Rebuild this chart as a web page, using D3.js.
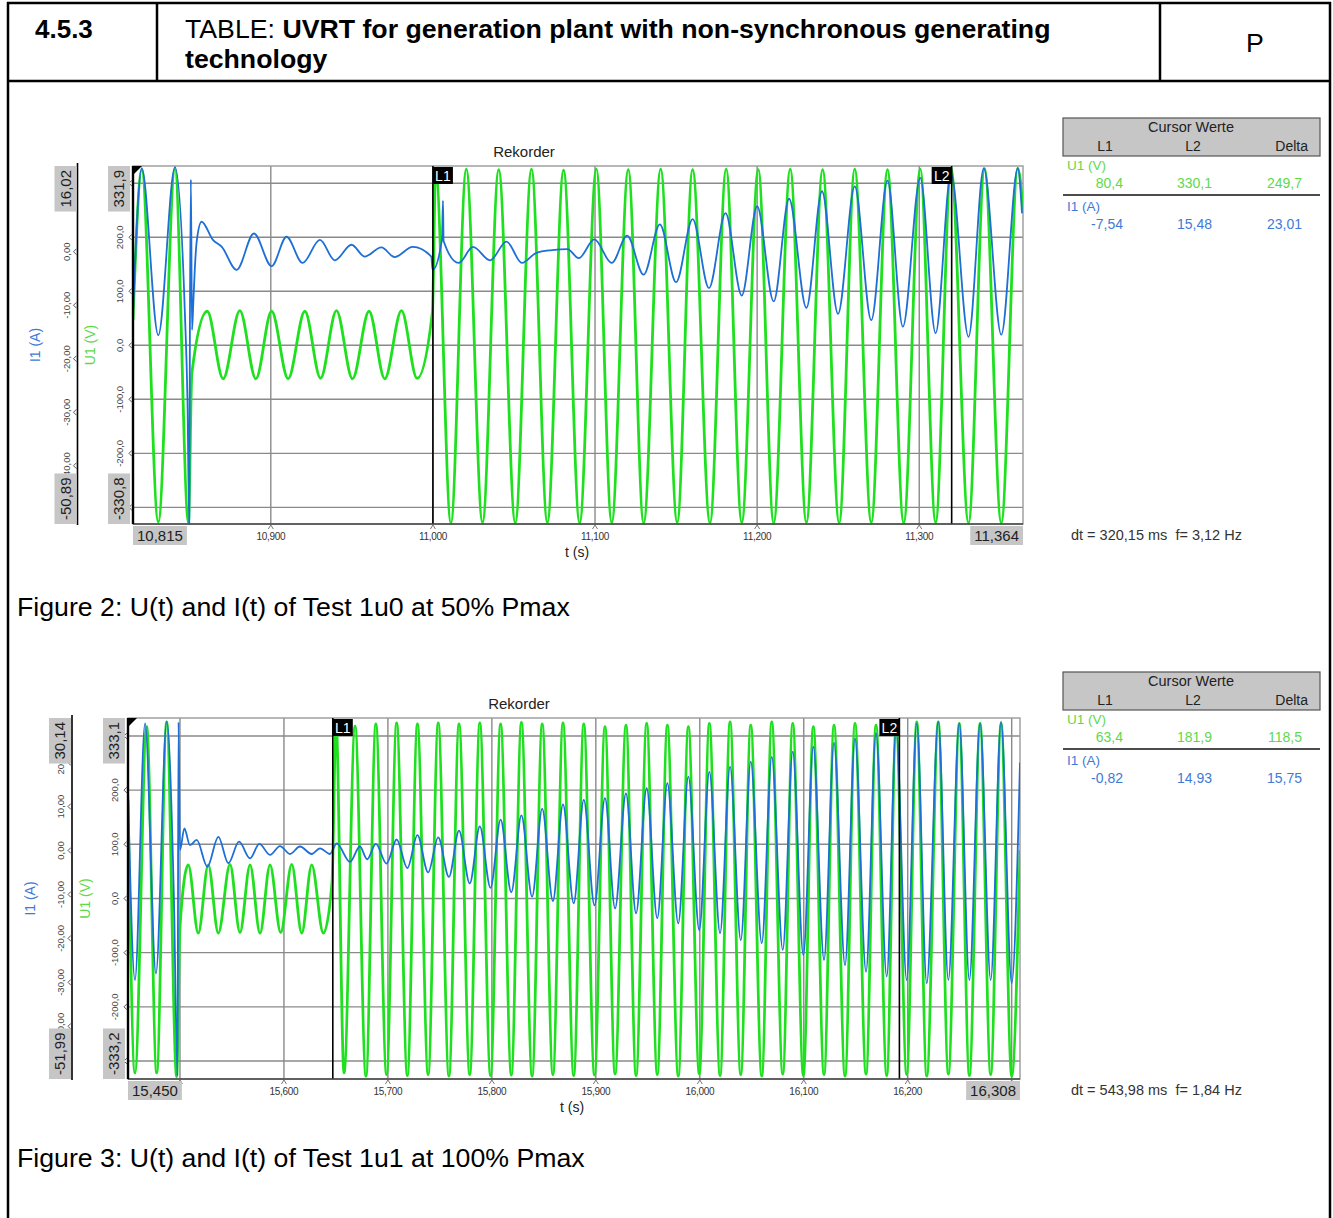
<!DOCTYPE html>
<html>
<head>
<meta charset="utf-8">
<script src="https://cdn.jsdelivr.net/npm/d3@7"></script>
<style>
  body { margin: 0; background: #fff; }
  svg text { font-family: "Liberation Sans", Arial, sans-serif; white-space: pre; }
</style>
</head>
<body>
<svg id="page" width="1333" height="1218"></svg>
<script>
// ---- data ----
// Figure 2 (Test 1u0, 50% Pmax)
var fig2TimeRange = [10.815, 11.364];
var fig2TimeTicks = [10.9, 11.0, 11.1, 11.2, 11.3];
var fig2U1Range = [-330.8, 331.9];
var fig2U1Ticks = [-300, -200, -100, 0, 100, 200, 300];
var fig2I1Range = [-50.89, 16.02];
var fig2I1Ticks = [-40, -30, -20, -10, 0];
var fig2Cursors = [11.000, 11.320];
var fig2CursorU1 = ["80,4", "330,1", "249,7"];
var fig2CursorI1 = ["-7,54", "15,48", "23,01"];
var fig2Delta = "dt = 320,15 ms  f= 3,12 Hz";
// [t (s), U1 (V)] turning points
var fig2U1 = [
  [10.8150, 47], [10.8204, 325], [10.8306, -327], [10.8409, 326], [10.8492, -329], [10.8513, -52],
  [10.8608, 63], [10.8706, -62], [10.8809, 64], [10.8908, -62], [10.9005, 63], [10.9107, -62],
  [10.9210, 63], [10.9307, -61], [10.9405, 64], [10.9504, -62], [10.9606, 63], [10.9703, -62],
  [10.9806, 64], [10.9902, -61], [10.9997, 62],
  [11.0017, 325], [11.0111, -329], [11.0206, 326], [11.0306, -328], [11.0406, 325], [11.0508, -329],
  [11.0608, 326], [11.0706, -328], [11.0806, 324], [11.0905, -329], [11.1008, 326], [11.1103, -328],
  [11.1205, 325], [11.1300, -329], [11.1405, 326], [11.1507, -328], [11.1602, 325], [11.1709, -329],
  [11.1809, 326], [11.1905, -328], [11.2007, 325], [11.2102, -329], [11.2204, 326], [11.2304, -328],
  [11.2404, 325], [11.2506, -329], [11.2602, 326], [11.2704, -328], [11.2804, 325], [11.2904, -329],
  [11.3006, 326], [11.3101, -328], [11.3196, 328], [11.3304, -329], [11.3403, 327], [11.3506, -329],
  [11.3608, 328], [11.3640, 251]
];
// [t (s), I1 (A)] turning points
var fig2I1 = [
  [10.8150, -11.4], [10.8204, 15.6], [10.8306, -15.6], [10.8409, 15.8], [10.8470, -11.5], [10.8486, -27.7],
  [10.8497, -50.7], [10.8501, -14.6], [10.8507, 13.5], [10.8514, -14.6], [10.8522, -9.6], [10.8532, -2.8],
  [10.8544, 2.2], [10.8573, 5.6], [10.8643, 2.2], [10.8698, 0.9], [10.8789, -3.4], [10.8896, 3.4],
  [10.9005, -2.7], [10.9097, 2.8], [10.9196, -2.1], [10.9303, 2.2], [10.9395, -1.6], [10.9498, 1.3],
  [10.9579, -0.9], [10.9682, 0.8], [10.9764, -1.0], [10.9875, 0.9], [10.9990, -0.9], [10.9998, -3.4],
  [11.0056, 2.3], [11.0062, 9.5], [11.0066, 2.0], [11.0159, -2.1], [11.0247, 0.9], [11.0353, -1.6],
  [11.0454, 1.9], [11.0549, -2.1], [11.0639, -0.2], [11.0734, 0.3], [11.0830, 0.5], [11.0900, -1.2],
  [11.0996, 2.3], [11.1103, -2.1], [11.1198, 3.0], [11.1300, -4.3], [11.1400, 5.1], [11.1500, -5.7],
  [11.1602, 6.1], [11.1703, -6.8], [11.1805, 7.2], [11.1905, -8.2], [11.2000, 8.5], [11.2102, -9.3],
  [11.2197, 9.9], [11.2304, -10.5], [11.2400, 11.3], [11.2499, -11.6], [11.2602, 12.2], [11.2704, -12.8],
  [11.2804, 13.3], [11.2899, -14.0], [11.3006, 13.8], [11.3101, -15.2], [11.3196, 14.6], [11.3304, -15.9],
  [11.3398, 15.6], [11.3506, -15.5], [11.3608, 15.6], [11.3634, 7.2]
];

// Figure 3 (Test 1u1, 100% Pmax)
var fig3TimeRange = [15.450, 16.308];
var fig3TimeTicks = [15.5, 15.6, 15.7, 15.8, 15.9, 16.0, 16.1, 16.2, 16.3];
var fig3U1Range = [-333.2, 333.1];
var fig3U1Ticks = [-300, -200, -100, 0, 100, 200, 300];
var fig3I1Range = [-51.99, 30.14];
var fig3I1Ticks = [-40, -30, -20, -10, 0, 10, 20];
var fig3Cursors = [15.647, 16.192];
var fig3CursorU1 = ["63,4", "181,9", "118,5"];
var fig3CursorI1 = ["-0,82", "14,93", "15,75"];
var fig3Delta = "dt = 543,98 ms  f= 1,84 Hz";
var fig3U1 = [
  [15.4500, 182], [15.4567, -322], [15.4680, 317], [15.4776, -322], [15.4872, 326], [15.4968, -329], [15.5000, -52],
  [15.5080, 62], [15.5176, -64], [15.5272, 62], [15.5369, -64], [15.5481, 63], [15.5577, -63], [15.5674, 62],
  [15.5770, -64], [15.5866, 62], [15.5969, -63], [15.6075, 63], [15.6171, -64], [15.6267, 62], [15.6379, -64],
  [15.6462, 29], [15.6501, 326], [15.6578, -322], [15.6684, 318], [15.6789, -328], [15.6884, 322], [15.6987, -325],
  [15.7084, 324], [15.7187, -327], [15.7284, 322], [15.7387, -325], [15.7484, 324], [15.7587, -328], [15.7684, 322],
  [15.7787, -325], [15.7884, 324], [15.7987, -327], [15.8084, 322], [15.8187, -326], [15.8284, 325], [15.8387, -328],
  [15.8484, 322], [15.8587, -325], [15.8684, 324], [15.8787, -327], [15.8884, 322], [15.8987, -326], [15.9088, 317],
  [15.9185, -324], [15.9290, 320], [15.9387, -327], [15.9489, 323], [15.9591, -325], [15.9688, 320], [15.9793, -328],
  [15.9890, 317], [15.9995, -324], [16.0092, 323], [16.0195, -327], [16.0291, 326], [16.0394, -325], [16.0490, 320],
  [16.0596, -328], [16.0692, 326], [16.0798, -324], [16.0894, 323], [16.0996, -327], [16.1092, 317], [16.1195, -325],
  [16.1291, 320], [16.1397, -328], [16.1493, 323], [16.1599, -324], [16.1695, 320], [16.1798, -327], [16.1888, 318],
  [16.1990, -325], [16.2087, 326], [16.2183, -328], [16.2294, 326], [16.2391, -324], [16.2496, 323], [16.2593, -327],
  [16.2696, 323], [16.2798, -325], [16.2898, 323], [16.3000, -328], [16.3080, 89]
];
var fig3I1 = [
  [15.4500, 13.8], [15.4567, -29.5], [15.4664, 28.9], [15.4769, -28.0], [15.4872, 29.3], [15.4942, -11.3],
  [15.4976, -51.3], [15.4986, 29.2], [15.5000, 0.1], [15.5042, 5.0], [15.5096, 1.2], [15.5161, 2.4],
  [15.5263, -3.7], [15.5369, 3.1], [15.5465, -2.9], [15.5568, 2.0], [15.5674, -1.8], [15.5763, 1.5],
  [15.5866, -1.0], [15.5962, 1.0], [15.6058, -0.8], [15.6154, 0.9], [15.6267, -0.8], [15.6347, 0.5],
  [15.6443, -0.8], [15.6469, 0.1], [15.6507, 1.6], [15.6635, -2.6], [15.6731, 0.9], [15.6800, -2.0],
  [15.6884, 1.5], [15.6987, -3.0], [15.7084, 2.5], [15.7187, -4.0], [15.7284, 3.5], [15.7387, -5.0],
  [15.7484, 3.0], [15.7587, -6.0], [15.7684, 4.5], [15.7787, -7.5], [15.7884, 5.5], [15.7987, -8.5],
  [15.8084, 7.0], [15.8187, -9.5], [15.8284, 8.0], [15.8387, -10.5], [15.8484, 9.5], [15.8587, -11.5],
  [15.8684, 10.5], [15.8787, -12.0], [15.8884, 11.5], [15.8987, -12.5], [15.9088, 11.9], [15.9185, -13.2],
  [15.9290, 13.0], [15.9387, -14.3], [15.9489, 14.2], [15.9591, -15.4], [15.9688, 15.3], [15.9793, -16.6],
  [15.9890, 16.8], [15.9995, -18.1], [16.0092, 17.9], [16.0195, -18.8], [16.0291, 19.1], [16.0394, -20.4],
  [16.0490, 20.2], [16.0596, -21.1], [16.0692, 21.3], [16.0798, -22.6], [16.0894, 22.5], [16.0996, -23.8],
  [16.1092, 23.6], [16.1195, -24.9], [16.1291, 24.5], [16.1397, -26.1], [16.1493, 25.5], [16.1599, -27.6],
  [16.1695, 26.7], [16.1798, -28.7], [16.1888, 27.4], [16.1990, -29.5], [16.2087, 28.9], [16.2183, -30.2],
  [16.2294, 29.3], [16.2391, -29.5], [16.2496, 28.9], [16.2593, -29.5], [16.2696, 28.9], [16.2798, -29.5],
  [16.2898, 29.3], [16.3000, -30.2], [16.3080, 20.0]
];

var captions = ["Figure 2: U(t) and I(t) of Test 1u0 at 50% Pmax", "Figure 3: U(t) and I(t) of Test 1u1 at 100% Pmax"];

// ---- styles ----
var GREEN = "#1fe01f";
var BLUE = "#1d6fd6";
var GREEN_TXT = "#5fd94a";
var BLUE_TXT = "#3f7ad6";
var GRID = "#8a8a8a";
var BOX = "#c6c6c6";
var DOC_SIZE = 26.7;

var svg = d3.select("#page");

function comma(v, n) { return v.toFixed(n).replace(".", ","); }

function vText(sel, x, y, txt, size, color) {
  return sel.append("text")
    .attr("transform", "translate(" + x + "," + y + ") rotate(-90)")
    .attr("text-anchor", "middle")
    .attr("dy", "0.35em")
    .attr("font-size", size)
    .attr("fill", color)
    .text(txt);
}

// grey value box with vertical text
function vBox(sel, x, yEdge, txt, atTop) {
  var g = sel.append("g");
  var r = g.append("rect").attr("fill", BOX);
  var t = vText(g, x + 11, 0, txt, 15, "#1e1e1e");
  var len = t.node().getComputedTextLength();
  var h = len + 8;
  var y0 = atTop ? yEdge : yEdge - h;
  r.attr("x", x).attr("y", y0).attr("width", 22).attr("height", h);
  t.attr("transform", "translate(" + (x + 11) + "," + (y0 + h / 2) + ") rotate(-90)");
}

// grey value box with horizontal text
function hBox(sel, xEdge, y, txt, atLeft) {
  var g = sel.append("g");
  var r = g.append("rect").attr("fill", BOX);
  var t = g.append("text").attr("font-size", 15).attr("fill", "#1e1e1e").text(txt);
  var w = t.node().getComputedTextLength() + 8;
  var x0 = atLeft ? xEdge : xEdge - w;
  r.attr("x", x0).attr("y", y).attr("width", w).attr("height", 19);
  t.attr("x", x0 + 4).attr("y", y + 15);
}

function drawRecorder(cfg) {
  var g = svg.append("g");
  var x = d3.scaleLinear().domain(cfg.tRange).range([cfg.left, cfg.right]);
  var yU = d3.scaleLinear().domain(cfg.uRange).range([cfg.bottom, cfg.top]);
  var yI = d3.scaleLinear().domain(cfg.iRange).range([cfg.bottom, cfg.top]);
  var midY = (cfg.top + cfg.bottom) / 2;

  g.append("text")
    .attr("x", cfg.left + 391).attr("y", cfg.top - 9)
    .attr("text-anchor", "middle").attr("font-size", 15).attr("fill", "#222")
    .text("Rekorder");

  g.append("clipPath").attr("id", "clip" + cfg.id)
    .append("rect")
    .attr("x", cfg.left).attr("y", cfg.top)
    .attr("width", cfg.right - cfg.left).attr("height", cfg.bottom - cfg.top);

  // grid
  g.append("g").selectAll("line").data(cfg.uTicks).join("line")
    .attr("x1", cfg.left).attr("x2", cfg.right)
    .attr("y1", function(d) { return yU(d); }).attr("y2", function(d) { return yU(d); })
    .attr("stroke", GRID).attr("stroke-width", 1.4);
  g.append("g").selectAll("line").data(cfg.tTicks).join("line")
    .attr("x1", function(d) { return x(d); }).attr("x2", function(d) { return x(d); })
    .attr("y1", cfg.top).attr("y2", cfg.bottom)
    .attr("stroke", GRID).attr("stroke-width", 1.4);
  g.append("rect")
    .attr("x", cfg.left).attr("y", cfg.top)
    .attr("width", cfg.right - cfg.left).attr("height", cfg.bottom - cfg.top)
    .attr("fill", "none").attr("stroke", "#9a9a9a").attr("stroke-width", 1.4);

  // traces
  var plot = g.append("g").attr("clip-path", "url(#clip" + cfg.id + ")");
  var lineU = d3.line().x(function(d) { return x(d[0]); }).y(function(d) { return yU(d[1]); }).curve(d3.curveMonotoneX);
  var lineI = d3.line().x(function(d) { return x(d[0]); }).y(function(d) { return yI(d[1]); }).curve(d3.curveMonotoneX);
  plot.append("path").datum(cfg.u1).attr("d", lineU)
    .attr("fill", "none").attr("stroke", GREEN).attr("stroke-width", 2.8).attr("stroke-linejoin", "round");
  plot.append("path").datum(cfg.i1).attr("d", lineI)
    .attr("fill", "none").attr("stroke", BLUE).attr("stroke-width", 1.8).attr("stroke-linejoin", "round");

  // cursors
  cfg.cursors.forEach(function(c, k) {
    var cx = x(c);
    g.append("line").attr("x1", cx).attr("x2", cx).attr("y1", cfg.top).attr("y2", cfg.bottom)
      .attr("stroke", "#000").attr("stroke-width", 1.6);
    var bx = k === 0 ? cx : cx - 20;
    g.append("rect").attr("x", bx).attr("y", cfg.top + 1).attr("width", 20).attr("height", 17).attr("fill", "#000");
    g.append("text").attr("x", bx + 10).attr("y", cfg.top + 15).attr("text-anchor", "middle")
      .attr("font-size", 14).attr("fill", "#fff").text("L" + (k + 1));
  });

  // corner marker
  g.append("path")
    .attr("d", "M" + cfg.left + "," + cfg.top + "h9l-9,9z")
    .attr("fill", "#000");

  // time axis (labels that sit under the end boxes are left out)
  g.append("line").attr("x1", cfg.left).attr("x2", cfg.right).attr("y1", cfg.bottom).attr("y2", cfg.bottom)
    .attr("stroke", "#444").attr("stroke-width", 1.5);
  var tk = g.append("g").selectAll("g").data(cfg.tTicks).join("g")
    .attr("transform", function(d) { return "translate(" + x(d) + "," + cfg.bottom + ")"; });
  tk.append("path").attr("d", "M-2.5,5L0,1L2.5,5").attr("fill", "none").attr("stroke", "#777");
  tk.filter(function(d) { return x(d) - cfg.left > 75 && cfg.right - x(d) > 75; })
    .append("text").attr("y", 16).attr("text-anchor", "middle").attr("font-size", 10)
    .attr("letter-spacing", -0.3).attr("fill", "#333")
    .text(function(d) { return comma(d, 3); });
  hBox(g, cfg.left, cfg.bottom + 2, comma(cfg.tRange[0], 3), true);
  hBox(g, cfg.right, cfg.bottom + 2, comma(cfg.tRange[1], 3), false);
  g.append("text").attr("x", cfg.left + 444).attr("y", cfg.bottom + 33)
    .attr("text-anchor", "middle").attr("font-size", 14).attr("fill", "#222").text("t (s)");

  // U1 axis
  g.append("line").attr("x1", cfg.left).attr("x2", cfg.left).attr("y1", cfg.top).attr("y2", cfg.bottom)
    .attr("stroke", "#000").attr("stroke-width", 2.4);
  var uk = g.append("g").selectAll("g").data(cfg.uTicks).join("g");
  uk.append("path")
    .attr("d", function(d) { return "M" + (cfg.left - 1) + "," + (yU(d) - 3) + "l-3,3l3,3"; })
    .attr("fill", "none").attr("stroke", "#555");
  uk.each(function(d) { vText(d3.select(this), cfg.left - 13, yU(d), comma(d, 1), 9.5, "#444"); });
  vBox(g, cfg.left - 25, cfg.top, comma(cfg.uRange[1], 1), true);
  vBox(g, cfg.left - 25, cfg.bottom, comma(cfg.uRange[0], 1), false);

  // I1 axis
  g.append("line").attr("x1", cfg.iAxisX).attr("x2", cfg.iAxisX).attr("y1", cfg.top - 3).attr("y2", cfg.bottom + 1)
    .attr("stroke", "#000").attr("stroke-width", 1.6);
  var ik = g.append("g").selectAll("g").data(cfg.iTicks).join("g");
  ik.append("path")
    .attr("d", function(d) { return "M" + (cfg.iAxisX - 1) + "," + (yI(d) - 3) + "l-3,3l3,3"; })
    .attr("fill", "none").attr("stroke", "#555");
  ik.each(function(d) { vText(d3.select(this), cfg.iAxisX - 11, yI(d), comma(d, 2), 9.5, "#444"); });
  vBox(g, cfg.iAxisX - 23, cfg.top, comma(cfg.iRange[1], 2), true);
  vBox(g, cfg.iAxisX - 23, cfg.bottom, comma(cfg.iRange[0], 2), false);

  vText(g, cfg.left - 98, midY, "I1 (A)", 14, BLUE_TXT);
  vText(g, cfg.left - 43, midY, "U1 (V)", 14, GREEN_TXT);

  // cursor table
  var tx = 1063, ty = cfg.tableY;
  var tb = g.append("g");
  tb.append("rect").attr("x", tx).attr("y", ty).attr("width", 257).attr("height", 38)
    .attr("fill", BOX).attr("stroke", "#555").attr("stroke-width", 1.2);
  tb.append("text").attr("x", 1191).attr("y", ty + 14).attr("text-anchor", "middle")
    .attr("font-size", 14.5).attr("fill", "#222").text("Cursor Werte");
  [["L1", 1105, "middle"], ["L2", 1193, "middle"], ["Delta", 1308, "end"]].forEach(function(h) {
    tb.append("text").attr("x", h[1]).attr("y", ty + 33).attr("text-anchor", h[2])
      .attr("font-size", 14).attr("fill", "#222").text(h[0]);
  });
  var colX = [1123, 1212, 1302];
  [["U1 (V)", cfg.curU1, GREEN_TXT, 52], ["I1 (A)", cfg.curI1, BLUE_TXT, 93]].forEach(function(row) {
    tb.append("text").attr("x", 1067).attr("y", ty + row[3]).attr("font-size", 13.5)
      .attr("fill", row[2]).text(row[0]);
    row[1].forEach(function(v, j) {
      tb.append("text").attr("x", colX[j]).attr("y", ty + row[3] + 18).attr("text-anchor", "end")
        .attr("font-size", 14).attr("fill", row[2]).text(v);
    });
  });
  tb.append("line").attr("x1", tx).attr("x2", 1320).attr("y1", ty + 77).attr("y2", ty + 77)
    .attr("stroke", "#111").attr("stroke-width", 1.5);
  tb.append("text").attr("x", 1071).attr("y", cfg.bottom + 16).attr("font-size", 14.5)
    .attr("fill", "#333").text(cfg.delta);
}

// ---- page frame and header ----
var frame = svg.append("g").attr("stroke", "#000").attr("stroke-width", 2.5);
frame.append("line").attr("x1", 7).attr("x2", 1331).attr("y1", 3).attr("y2", 3);
frame.append("line").attr("x1", 7).attr("x2", 1331).attr("y1", 81).attr("y2", 81);
frame.append("line").attr("x1", 8).attr("x2", 8).attr("y1", 2).attr("y2", 1218);
frame.append("line").attr("x1", 1330).attr("x2", 1330).attr("y1", 2).attr("y2", 1218);
frame.append("line").attr("x1", 157).attr("x2", 157).attr("y1", 3).attr("y2", 81);
frame.append("line").attr("x1", 1160).attr("x2", 1160).attr("y1", 3).attr("y2", 81);

svg.append("text").attr("x", 35).attr("y", 38).attr("font-size", DOC_SIZE - 0.7).attr("font-weight", "bold").text("4.5.3");
var head = svg.append("text").attr("x", 185).attr("y", 38).attr("font-size", DOC_SIZE);
head.append("tspan").text("TABLE: ");
head.append("tspan").attr("font-weight", "bold").text("UVRT for generation plant with non-synchronous generating");
svg.append("text").attr("x", 185).attr("y", 68).attr("font-size", DOC_SIZE).attr("font-weight", "bold").text("technology");
svg.append("text").attr("x", 1255).attr("y", 52).attr("font-size", DOC_SIZE).attr("text-anchor", "middle").text("P");

drawRecorder({
  id: 2, left: 133, right: 1023, top: 166, bottom: 524, iAxisX: 77.5, tableY: 118,
  tRange: fig2TimeRange, tTicks: fig2TimeTicks,
  uRange: fig2U1Range, uTicks: fig2U1Ticks,
  iRange: fig2I1Range, iTicks: fig2I1Ticks,
  u1: fig2U1, i1: fig2I1, cursors: fig2Cursors,
  curU1: fig2CursorU1, curI1: fig2CursorI1, delta: fig2Delta
});
drawRecorder({
  id: 3, left: 128, right: 1020, top: 718, bottom: 1079, iAxisX: 72, tableY: 672,
  tRange: fig3TimeRange, tTicks: fig3TimeTicks,
  uRange: fig3U1Range, uTicks: fig3U1Ticks,
  iRange: fig3I1Range, iTicks: fig3I1Ticks,
  u1: fig3U1, i1: fig3I1, cursors: fig3Cursors,
  curU1: fig3CursorU1, curI1: fig3CursorI1, delta: fig3Delta
});

svg.selectAll("text.caption").data(captions).join("text")
  .attr("class", "caption")
  .attr("x", 17).attr("y", function(d, i) { return i === 0 ? 616 : 1167; })
  .attr("font-size", DOC_SIZE).attr("fill", "#000")
  .text(function(d) { return d; });
</script>
</body>
</html>
